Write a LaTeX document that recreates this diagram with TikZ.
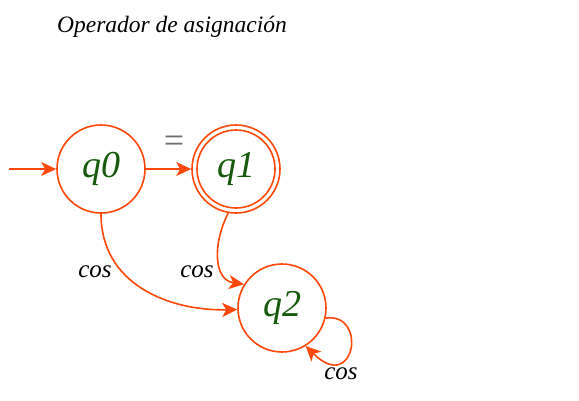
\documentclass[tikz,border=0pt]{standalone}
\usepackage{fontspec}
\setmainfont{Liberation Serif}
\usetikzlibrary{arrows.meta}
\definecolor{edgeorange}{RGB}{255,72,10}
\definecolor{stategreen}{RGB}{22,90,12}
\definecolor{eqgray}{RGB}{110,110,110}
\tikzset{
  state/.style={circle, draw=edgeorange, line width=1.6pt, minimum size=88pt, inner sep=0pt,
    text=stategreen, font=\fontsize{38}{38}\selectfont\itshape},
  trans/.style={draw=edgeorange, line width=1.6pt, -{Stealth[length=15pt,width=14pt,inset=4pt]}},
  lab/.style={font=\fontsize{25}{25}\selectfont\itshape, inner sep=0pt}
}
\begin{document}
\begin{tikzpicture}[x=1pt,y=-1pt]
\useasboundingbox (0,0) rectangle (579,400);
\node[lab, font=\fontsize{23.5}{23.5}\selectfont\itshape] (title) at (172,27) {Operador de asignación};
\node[state] (q0) at (101,169) {q0};
\node[state] (q1) at (236,169) {q1};
\draw[edgeorange, line width=1.6pt] (q1.center) circle (39pt);
\node[state] (q2) at (282,308) {q2};
\coordinate (start) at (9,169);
\draw[trans] (start) -- (q0);
\draw[trans] (q0) -- (q1);
\node[text=eqgray, font=\fontsize{36}{36}\selectfont, inner sep=0pt] (eq) at (174,144) {=};
\draw[trans] (q0.south) .. controls (101,285) and (170,311) .. (q2.182);
\draw[trans] (q1.-100) .. controls (212,245) and (214,280) .. (q2.148);
\draw[trans] (q2.-13) .. controls (368,312) and (355,395) .. (q2.-58);
\node[lab] (l1) at (95,272) {cos};
\node[lab] (l2) at (197,272) {cos};
\node[lab] (l3) at (341,374) {cos};
\end{tikzpicture}
\end{document}
